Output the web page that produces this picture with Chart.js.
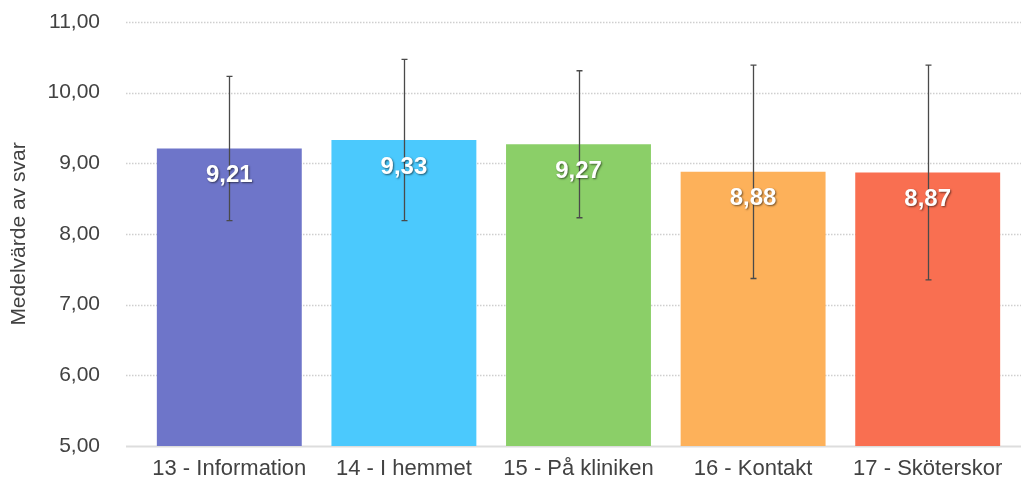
<html>
    <head>
        <meta charset="utf-8">
        <title>Medelvärde av svar</title>
        <script src="https://cdn.jsdelivr.net/npm/chart.js@4.4.1/dist/chart.umd.min.js"></script>
        <style type="text/css">
            html, body {
                margin: 0;
                padding: 0;
                background: #ffffff;
                overflow: hidden;
            }
            #meanChart {
                display: block;
            }
        </style>
    </head>
    <body>
        <canvas id="meanChart" width="1023" height="478"></canvas>
        <script>
            // data
            var categories = ['13 - Information', '14 - I hemmet', '15 - På kliniken', '16 - Kontakt', '17 - Sköterskor'];
            var means = [9.21, 9.33, 9.27, 8.88, 8.87];
            var deviations = [1.02, 1.14, 1.04, 1.51, 1.52];
            var barColors = ['#6e75c9', '#4bc9fd', '#8bcf68', '#fdb15a', '#f96f51'];
            var yTicks = [5, 6, 7, 8, 9, 10, 11];

            var fontFamily = '"Liberation Sans", Arial, Helvetica, sans-serif';
            var textColor = '#424242';

            function fmt(v) {
                return v.toFixed(2).replace('.', ',');
            }

            // dotted grid lines reaching a bit past the bars, like the original
            var gridPlugin = {
                id: 'dottedGrid',
                beforeDatasetsDraw: function(chart) {
                    var ctx = chart.ctx;
                    var area = chart.chartArea;
                    var y = chart.scales.y;
                    var left = area.left - 16;
                    var right = area.right + 6;
                    ctx.save();
                    yTicks.forEach(function(t) {
                        var py = Math.round(y.getPixelForValue(t)) + 0.5;
                        ctx.beginPath();
                        if (t === yTicks[0]) {
                            ctx.setLineDash([]);
                            ctx.strokeStyle = '#dddddd';
                            ctx.lineWidth = 2;
                        } else {
                            ctx.setLineDash([1.5, 1.5]);
                            ctx.strokeStyle = '#cfcfcf';
                            ctx.lineWidth = 1.5;
                        }
                        ctx.moveTo(left, py);
                        ctx.lineTo(right, py);
                        ctx.stroke();
                    });
                    ctx.restore();
                }
            };

            // error bars and value labels on top of the bars
            var overlayPlugin = {
                id: 'overlay',
                afterDatasetsDraw: function(chart) {
                    var ctx = chart.ctx;
                    var y = chart.scales.y;
                    var meta = chart.getDatasetMeta(0);
                    ctx.save();
                    meta.data.forEach(function(bar, i) {
                        var top = y.getPixelForValue(means[i] + deviations[i]);
                        var bottom = y.getPixelForValue(means[i] - deviations[i]);
                        var x = Math.round(bar.x) + 0.5;
                        ctx.strokeStyle = '#4a4a4a';
                        ctx.lineWidth = 1.3;
                        ctx.beginPath();
                        ctx.moveTo(x, top);
                        ctx.lineTo(x, bottom);
                        ctx.moveTo(x - 3, top);
                        ctx.lineTo(x + 3, top);
                        ctx.moveTo(x - 3, bottom);
                        ctx.lineTo(x + 3, bottom);
                        ctx.stroke();
                    });
                    meta.data.forEach(function(bar, i) {
                        ctx.font = 'bold 24px ' + fontFamily;
                        ctx.textAlign = 'center';
                        ctx.textBaseline = 'middle';
                        ctx.shadowColor = 'rgba(0,0,0,0.55)';
                        ctx.shadowBlur = 2;
                        ctx.shadowOffsetX = 1;
                        ctx.shadowOffsetY = 1;
                        ctx.fillStyle = '#ffffff';
                        ctx.fillText(fmt(means[i]), bar.x, bar.y + 27);
                    });
                    ctx.restore();
                }
            };

            var ctx = document.getElementById('meanChart').getContext('2d');
            var meanChart = new Chart(ctx, {
                type: 'bar',
                data: {
                    labels: categories,
                    datasets: [{
                        label: 'Medelvärde',
                        data: means,
                        backgroundColor: barColors,
                        borderWidth: 0,
                        barPercentage: 0.83,
                        categoryPercentage: 1.0
                    }]
                },
                options: {
                    responsive: false,
                    animation: false,
                    devicePixelRatio: 1,
                    layout: {
                        padding: { top: 22, right: 8, bottom: 0, left: 0 }
                    },
                    plugins: {
                        legend: { display: false },
                        tooltip: { enabled: false }
                    },
                    scales: {
                        x: {
                            afterFit: function(scale) { scale.height = 32; },
                            grid: { display: false, drawTicks: false },
                            border: { display: false },
                            ticks: {
                                color: textColor,
                                padding: 10,
                                font: { family: fontFamily, size: 22 },
                                maxRotation: 0,
                                autoSkip: false
                            }
                        },
                        y: {
                            min: 5,
                            max: 11,
                            afterFit: function(scale) { scale.width = 142; },
                            afterBuildTicks: function(scale) {
                                scale.ticks = yTicks.map(function(v) { return { value: v }; });
                            },
                            // ticks are not drawn; the tick length only pushes the labels left
                            grid: { display: false, drawTicks: true, tickLength: 38 },
                            border: { display: false },
                            title: {
                                display: true,
                                text: 'Medelvärde av svar',
                                color: textColor,
                                font: { family: fontFamily, size: 21 },
                                padding: { top: 7, bottom: 0 }
                            },
                            ticks: {
                                color: textColor,
                                padding: 4,
                                font: { family: fontFamily, size: 21 },
                                callback: function(v) { return fmt(v); }
                            }
                        }
                    }
                },
                plugins: [gridPlugin, overlayPlugin]
            });
        </script>
    </body>
</html>
